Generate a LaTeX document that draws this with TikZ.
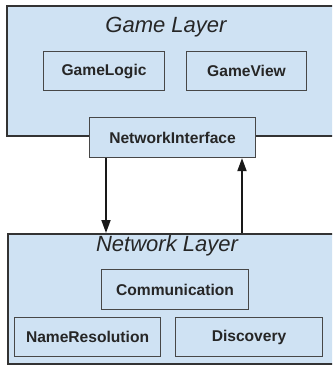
\documentclass[tikz,border=0pt]{standalone}
\usepackage{fontspec}
\setmainfont{Liberation Sans}
\usetikzlibrary{arrows.meta}
\definecolor{boxfill}{HTML}{CFE2F3}
\definecolor{edge}{HTML}{333333}
\tikzset{
  layer/.style={draw=edge, line width=2pt, fill=boxfill, anchor=north west, inner sep=0pt},
  comp/.style={draw=edge!90, line width=1.1pt, fill=boxfill, anchor=north west, inner sep=0pt},
  lbl/.style={font=\fontsize{15.6}{18}\selectfont\bfseries, text=black!85, inner sep=0pt},
  ttl/.style={font=\fontsize{22}{24}\selectfont\itshape, text=black!85, inner sep=0pt},
  flow/.style={line width=1.8pt, draw=black!90, -{Triangle[length=13pt,width=9pt]}}
}
\begin{document}
\begin{tikzpicture}[x=1pt,y=-1pt]
\useasboundingbox (0,0) rectangle (332,366);
\clip (0,0) rectangle (332,366);
\node[layer, minimum width=345pt, minimum height=130pt] (game) at (6,5) {};
\node[ttl] (gtitle) at (166,27.5) {Game Layer};
\node[comp, minimum width=121pt, minimum height=39pt] (logic) at (43,51) {};
\node[lbl] (logict) at (logic.center) {GameLogic};
\node[comp, minimum width=120pt, minimum height=39pt] (view) at (186,51) {};
\node[lbl] (viewt) at (view.center) {GameView};
\node[comp, minimum width=166pt, minimum height=40pt] (ni) at (89,117) {};
\node[lbl] (nit) at (ni.center) {NetworkInterface};
\node[layer, minimum width=345pt, minimum height=130pt] (net) at (7,233) {};
\node[ttl] (ntitle) at (167,246) {Network Layer};
\node[comp, minimum width=147pt, minimum height=40pt] (comm) at (101,269) {};
\node[lbl] (commt) at (comm.center) {Communication};
\node[comp, minimum width=146pt, minimum height=39pt] (name) at (14,317) {};
\node[lbl] (namet) at (name.center) {NameResolution};
\node[comp, minimum width=147pt, minimum height=39pt] (disc) at (175,317) {};
\node[lbl] (disct) at (disc.center) {Discovery};
\coordinate (ldown) at (106,0);
\coordinate (rup) at (242,0);
\draw[flow] (ni.south -| ldown) -- (net.north -| ldown);
\draw[flow] (net.north -| rup) -- (ni.south -| rup);
\end{tikzpicture}
\end{document}
